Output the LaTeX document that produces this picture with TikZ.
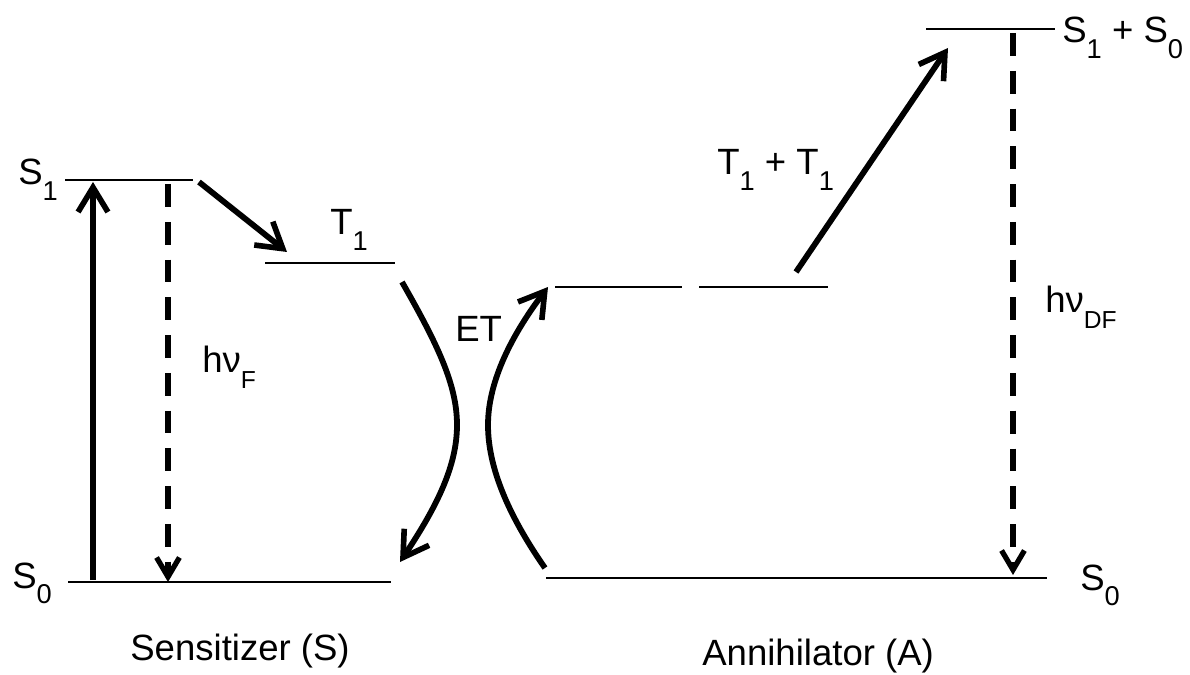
\documentclass[tikz,border=0pt]{standalone}
\usepackage{fontspec}
\setmainfont{Liberation Sans}
\usetikzlibrary{arrows.meta}
\newcommand{\lo}[1]{\raisebox{-0.42em}{\fontsize{15.5}{15.5}\selectfont #1}}
\newcommand{\losm}[1]{\raisebox{-0.42em}{\fontsize{14}{14}\selectfont #1}}

\begin{document}
\begin{tikzpicture}[x=0.02cm,y=-0.02cm,line cap=butt,
  level/.style={line width=0.8pt},
  trans/.style={line width=3.3pt,-{Straight Barb[length=14pt,width=17pt,line width=3.2pt]}},
  emis/.style={line width=3.3pt,dash pattern=on 13pt off 8.5pt,-{Straight Barb[length=11pt,width=13pt,line width=3pt]}},
  lab/.style={inner sep=0pt,anchor=base west,font=\fontsize{20.8}{24}\selectfont}]
\useasboundingbox (0,0) rectangle (1190,675);
% levels of the sensitizer
\draw [level] (65,180) -- (193,180);
\draw [level] (265,263) -- (395,263);
\draw [level] (68,582) -- (391,582);
% levels of the annihilator
\draw [level] (555,287) -- (682,287);
\draw [level] (699,287) -- (828,287);
\draw [level] (926,29) -- (1055,29);
\draw [level] (546,578) -- (1047,578);
% end points of the transitions
\coordinate (absA) at (93,580);
\coordinate (absB) at (93,182);
\coordinate (flA) at (168,184);
\coordinate (flB) at (168,582);
\coordinate (iscA) at (199,182);
\coordinate (iscB) at (287,252);
\coordinate (etsA) at (402,282);
\coordinate (etsM) at (457,425);
\coordinate (etsB) at (400,562);
\coordinate (etaA) at (545,568);
\coordinate (etaM) at (488,425);
\coordinate (etaB) at (548,287);
\coordinate (ttaA) at (796,272);
\coordinate (ttaB) at (948,48);
\coordinate (dfA) at (1013,33);
\coordinate (dfB) at (1013,575);
\draw [trans] (absA) -- (absB);
\draw [emis] (flA) -- (flB);
\draw [trans] (iscA) -- (iscB);
\draw [trans] (etsA) .. controls (438,345) and (457,385) .. (etsM)
  .. controls (457,465) and (438,505) .. (etsB);
\draw [trans] (etaA) .. controls (506,512) and (488,465) .. (etaM)
  .. controls (488,385) and (508,340) .. (etaB);
\draw [trans] (ttaA) -- (ttaB);
\draw [emis] (dfA) -- (dfB);
% labels
\node [lab] (s1s) at (18,185) {S\lo{1}};
\node [lab] (s0s) at (12,588) {S\lo{0}};
\node [lab] (t1s) at (330,235) {T\lo{1}};
\node [lab] (hvf) at (202,373) {hν\losm{F}};
\node [lab] (et) at (455,342) {ET};
\node [lab] (tt) at (717,175) {T\lo{1} + T\lo{1}};
\node [lab] (s1a) at (1062,43) {S\lo{1} + S\lo{0}};
\node [lab] (hvdf) at (1045,313) {hν\losm{DF}};
\node [lab] (s0a) at (1080,590) {S\lo{0}};
\node [lab] (sens) at (130,660) {Sensitizer (S)};
\node [lab] (ann) at (702,665) {Annihilator (A)};
\end{tikzpicture}
\end{document}
